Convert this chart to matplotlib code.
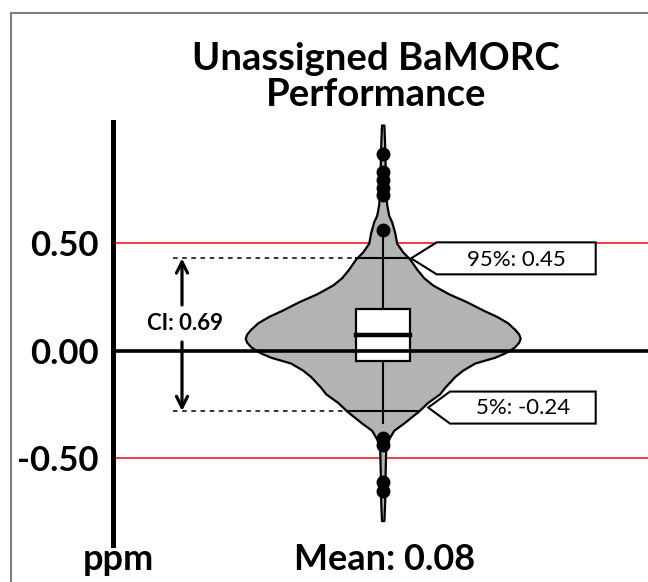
import matplotlib
matplotlib.use("Agg")
import matplotlib.pyplot as plt
from matplotlib.lines import Line2D
from matplotlib.patches import Polygon, Rectangle
import numpy as np

plt.rcParams['font.family'] = ['Lato', 'DejaVu Sans']

# violin outline: value (ppm) and half width (x units)
violin_vals = [1.05, 0.95, 0.85, 0.75, 0.68, 0.63, 0.60, 0.55, 0.50, 0.46, 0.427,
               0.38, 0.34, 0.306, 0.265, 0.228, 0.19, 0.16, 0.13, 0.10, 0.078,
               0.058, 0.04, 0.019, 0.0, -0.012, -0.03, -0.057, -0.09, -0.12,
               -0.17, -0.20, -0.24, -0.28, -0.336, -0.37, -0.41, -0.46, -0.55,
               -0.70, -0.79]
violin_half = [0.012, 0.02, 0.025, 0.03, 0.04, 0.06, 0.09, 0.12, 0.14, 0.20, 0.27,
               0.34, 0.41, 0.50, 0.66, 0.84, 1.00, 1.14, 1.25, 1.32, 1.36,
               1.375, 1.36, 1.32, 1.26, 1.21, 1.12, 0.92, 0.80, 0.72,
               0.62, 0.57, 0.45, 0.36, 0.21, 0.11, 0.06, 0.03, 0.025,
               0.02, 0.012]

# box plot numbers
q1, median, q3 = -0.047, 0.072, 0.194
whisker_lo, whisker_hi = -0.336, 0.56
outliers = [0.56, 0.724, 0.757, 0.794, 0.832, 0.915, -0.405, -0.437, -0.612, -0.65]

# percentile marks drawn in the chart and their labels
p95, p05 = 0.43, -0.28
p95_label = '95%: 0.45'
p05_label = '5%: -0.24'
ci_label = 'CI: 0.69'
mean_label = 'Mean: 0.08'

yticks = [-0.5, 0.0, 0.5]
ytick_labels = ['-0.50', '0.00', '0.50']
limits = [-0.5, 0.5]

fig = plt.figure(figsize=(6.48, 5.82), dpi=100)
W, H = 648, 582
ax_bot, ax_top = 545, 122
ax = fig.add_axes([112.7 / W, (H - ax_bot) / H, 1 - 112.7 / W, (ax_bot - ax_top) / H])
ax.set_xlim(-2.7, 2.653)
ax.set_ylim((350.8 - ax_bot) / 215, (350.8 - ax_top) / 215)

for s in ['top', 'right', 'bottom']:
    ax.spines[s].set_visible(False)
ax.spines['left'].set_linewidth(3.6)
ax.spines['left'].set_color('black')
ax.set_xticks([])
ax.set_yticks(yticks)
ax.set_yticklabels(ytick_labels, fontsize=25, fontweight='bold')
ax.tick_params(axis='y', length=0, pad=10)

# limit lines
for lim in limits:
    ax.axhline(lim, color='#ee1c24', lw=1.2, zorder=1)

# violin
vv = np.array(violin_vals)
hw = np.array(violin_half)
ax.fill_betweenx(vv, -hw, hw, facecolor='#b2b4b2', edgecolor='black', lw=1.6, zorder=2)

ax.axhline(0, color='black', lw=2.6, zorder=3)

# whisker line and box
ax.plot([0, 0], [whisker_lo, whisker_hi], color='black', lw=1.5, zorder=4)
bw = 0.27
ax.add_patch(Rectangle((-bw, q1), 2 * bw, q3 - q1, facecolor='white',
                       edgecolor='black', lw=1.6, zorder=5))
ax.plot([-bw, bw], [median, median], color='black', lw=3.2, zorder=6)
ax.plot([-bw, bw], [0, 0], color='black', lw=2.6, zorder=6)

# outliers
ax.plot(np.zeros(len(outliers)), outliers, 'o', color='black', ms=9, zorder=6)

# percentile lines: dashed to the violin, solid across it
x_start = -2.097
for p in [p95, p05]:
    half = np.interp(p, vv[::-1], hw[::-1])
    ax.plot([x_start, -half], [p, p], color='black', lw=1.1, ls=(0, (3, 3)), zorder=4)
    ax.plot([-half, half], [p, p], color='black', lw=1.5, zorder=4)

# CI arrows
x_arr = -2.007
astyle = dict(arrowstyle='->,head_length=0.8,head_width=0.4', lw=2.3, color='black',
              shrinkA=0, shrinkB=0)
ax.annotate('', xy=(x_arr, p95), xytext=(x_arr, 0.213), arrowprops=astyle)
ax.annotate('', xy=(x_arr, p05), xytext=(x_arr, 0.041), arrowprops=astyle)
ax.text(-1.977, 0.129, ci_label, ha='center', va='center', fontsize=16, fontweight='bold')

# callout boxes
hh = 0.0744
tip95 = np.interp(p95, vv[::-1], hw[::-1]) + 0.02
call95 = [(tip95, p95), (0.54, p95 + hh), (2.13, p95 + hh), (2.13, p95 - hh), (0.54, p95 - hh)]
ax.add_patch(Polygon(call95, closed=True, facecolor='white', edgecolor='black', lw=1.5, zorder=7))
ax.text(1.333, p95 - 0.008, p95_label, ha='center', va='center', fontsize=16, zorder=8)

c05 = p05 + 0.016
tip05 = np.interp(p05 + 0.02, vv[::-1], hw[::-1]) + 0.05
call05 = [(tip05, c05), (0.673, c05 + hh), (2.13, c05 + hh), (2.13, c05 - hh), (0.673, c05 - hh)]
ax.add_patch(Polygon(call05, closed=True, facecolor='white', edgecolor='black', lw=1.5, zorder=7))
ax.text(1.40, c05 - 0.003, p05_label, ha='center', va='center', fontsize=16, zorder=8)

# title and bottom labels
fig.text(376 / W, 1 - 70 / H, 'Unassigned BaMORC', ha='center', va='baseline',
         fontsize=27.5, fontweight='bold')
fig.text(376 / W, 1 - 106 / H, 'Performance', ha='center', va='baseline',
         fontsize=27.5, fontweight='bold')
fig.text(118 / W, 1 - 570 / H, 'ppm', ha='center', va='baseline', fontsize=26, fontweight='bold')
fig.text(385 / W, 1 - 570 / H, mean_label, ha='center', va='baseline', fontsize=26, fontweight='bold')

# frame on top and left
fig.add_artist(Line2D([11 / W, 1], [1 - 13 / H, 1 - 13 / H], color='#7f7f7f', lw=1.5))
fig.add_artist(Line2D([11 / W, 11 / W], [1 - 13 / H, 0], color='#7f7f7f', lw=1.5))

fig.savefig('out.png', dpi=100)
